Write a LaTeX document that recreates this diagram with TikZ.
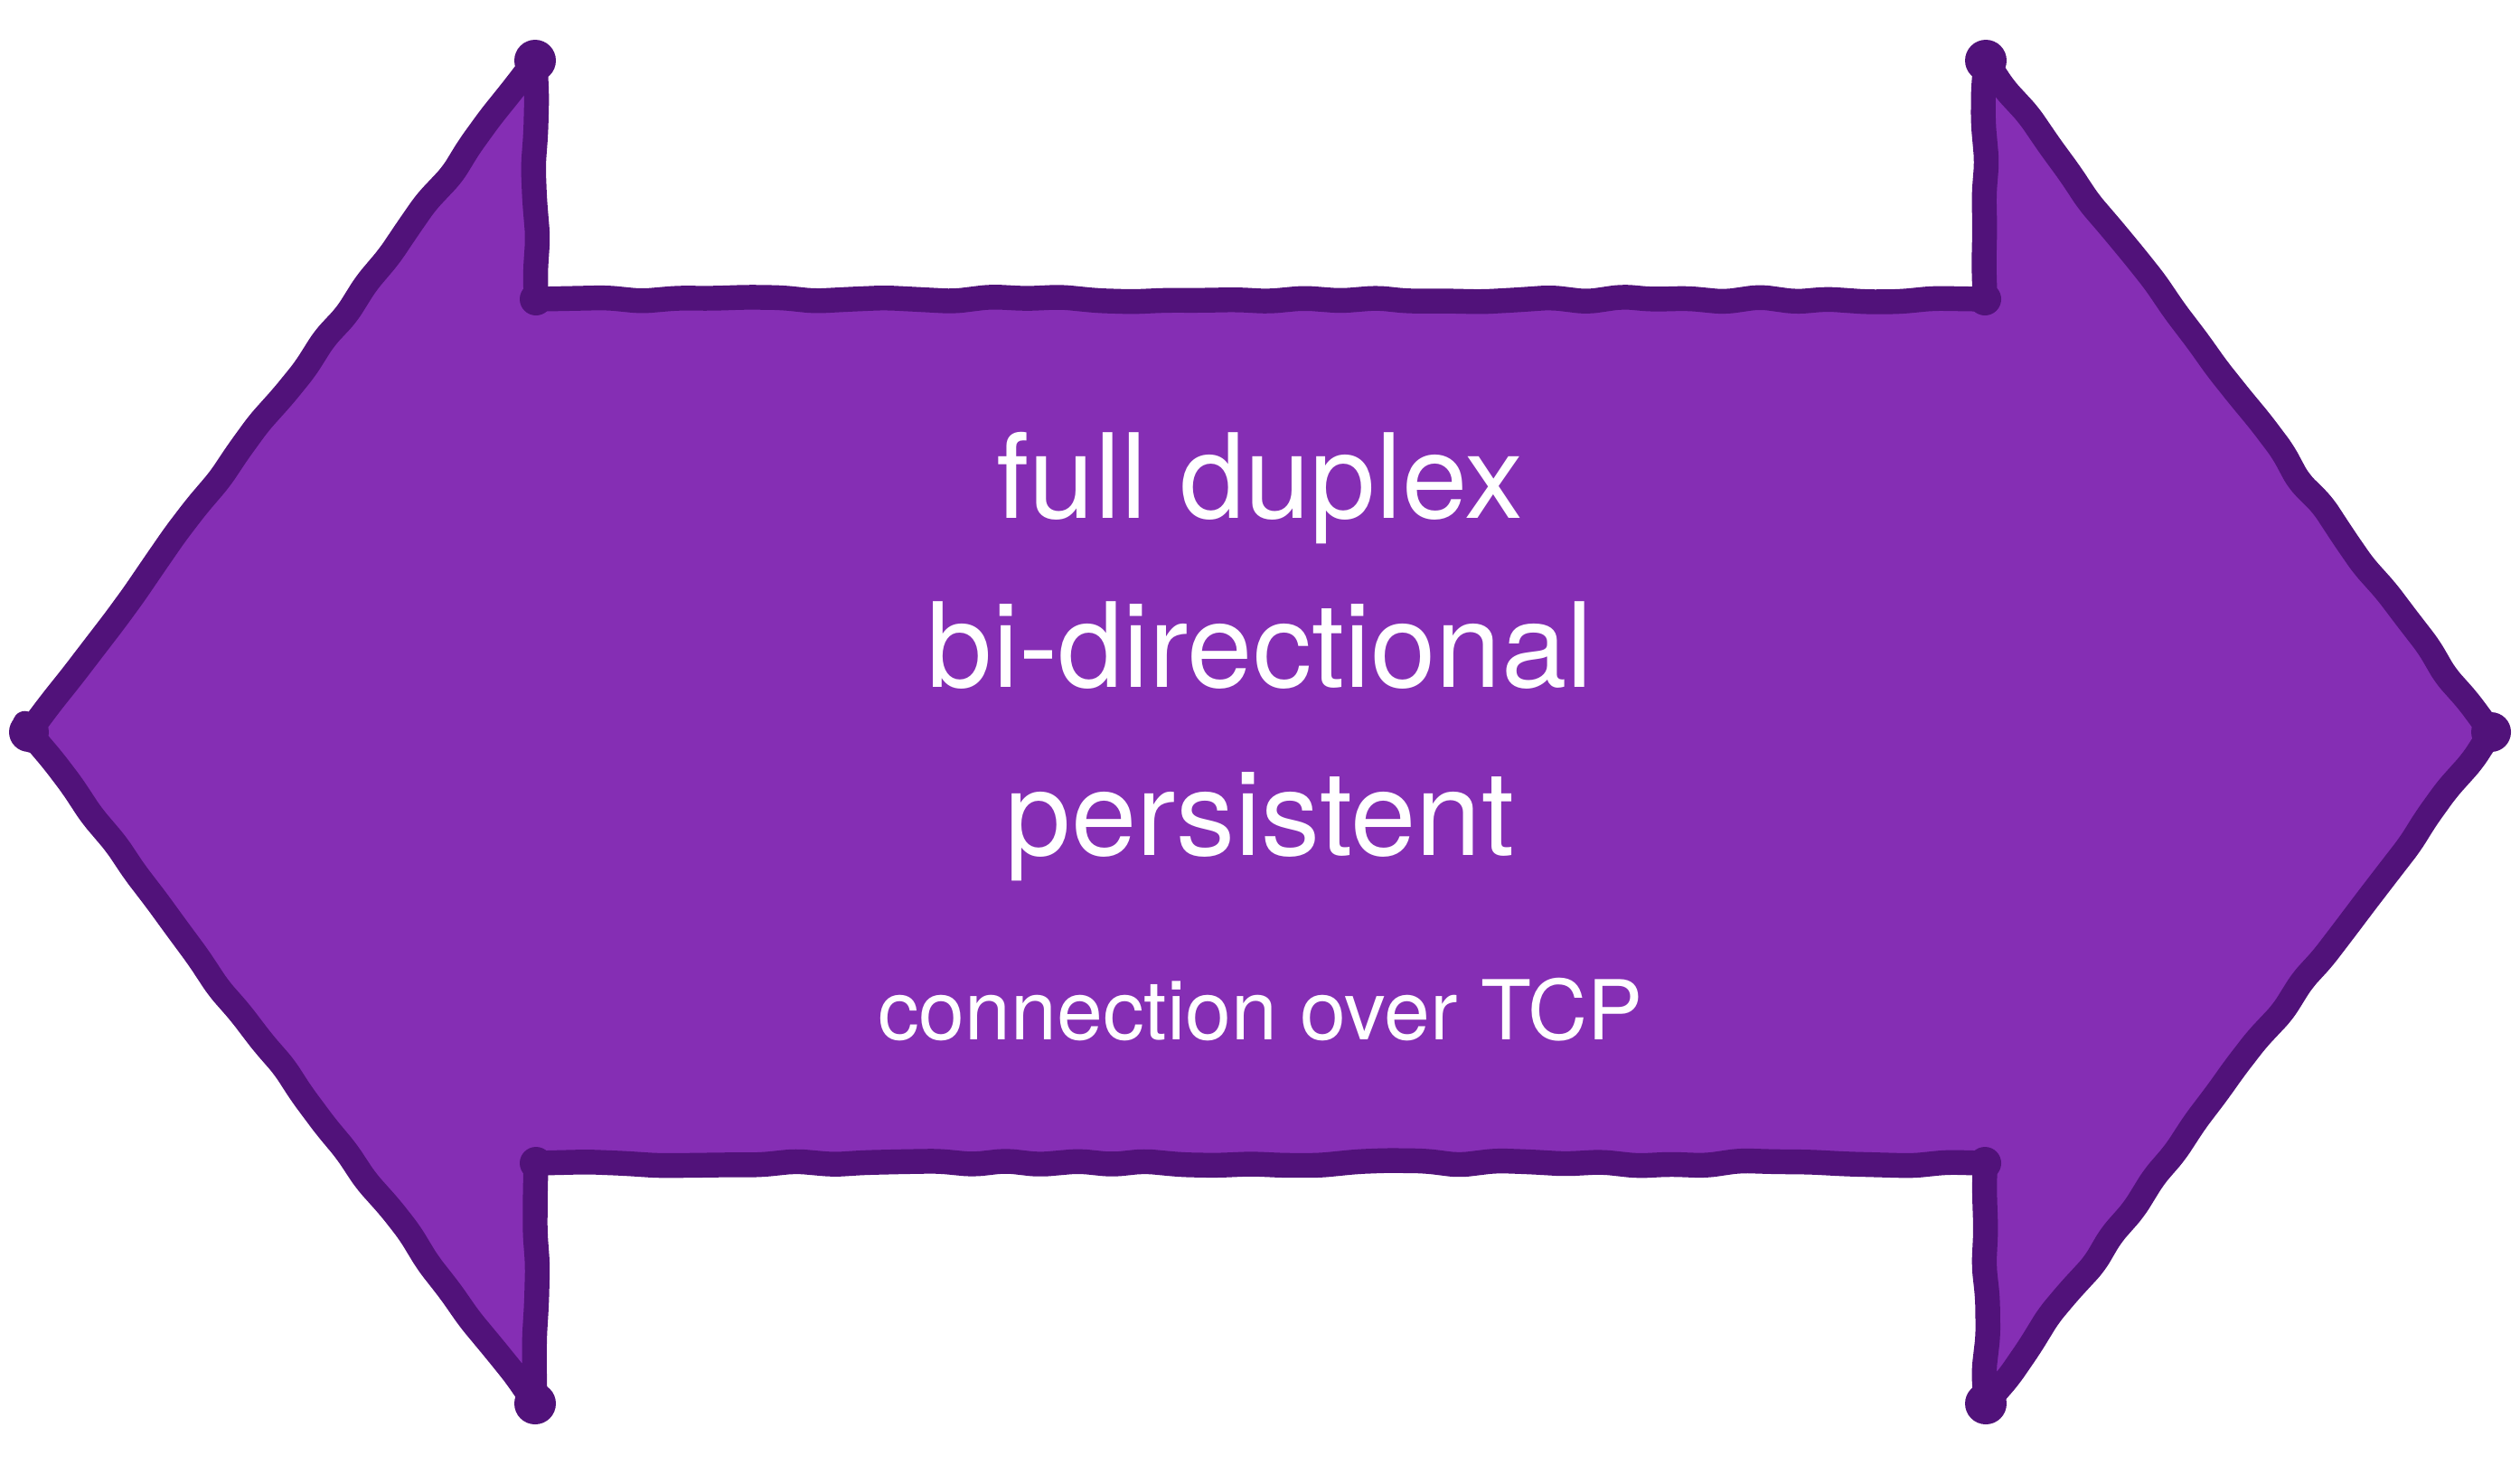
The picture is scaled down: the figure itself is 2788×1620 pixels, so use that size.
\documentclass[tikz,border=0pt]{standalone}
\usepackage{fontspec}
\setmainfont{TeX Gyre Heros}
\usetikzlibrary{decorations.pathmorphing}
\definecolor{arrowfill}{HTML}{852EB4}
\definecolor{arrowline}{HTML}{51127A}
\tikzset{
  sketchy/.style={draw=arrowline, fill=arrowfill, line width=7.8pt,
    line join=round, line cap=round,
    decoration={random steps, segment length=11pt, amplitude=0.9pt},
    rounded corners=3pt},
  bigtext/.style={text=white, inner sep=0pt, anchor=base,
    font=\fontsize{37}{44}\selectfont},
  smalltext/.style={text=white, inner sep=0pt, anchor=base,
    font=\fontsize{26}{31}\selectfont}
}
\begin{document}
\begin{tikzpicture}[x=0.01cm,y=-0.01cm]
\useasboundingbox (0,0) rectangle (2788,1620);
\pgfmathsetseed{11}
\coordinate (lt) at (32,810);
\coordinate (nlt) at (592,67);
\coordinate (clt) at (593,331);
\coordinate (crt) at (2196,331);
\coordinate (nrt) at (2197,67);
\coordinate (rt) at (2756,810);
\coordinate (nrb) at (2197,1553);
\coordinate (crb) at (2196,1287);
\coordinate (clb) at (593,1287);
\coordinate (nlb) at (592,1553);
\path[sketchy]
  (lt) decorate{-- (nlt)} decorate{-- (clt)} decorate{-- (crt)}
  decorate{-- (nrt)} decorate{-- (rt)} decorate{-- (nrb)}
  decorate{-- (crb)} decorate{-- (clb)} decorate{-- (nlb)}
  decorate{-- (lt)} -- cycle;
% rounded blobs where the pen turned
\foreach \c/\r in {lt/22,nlt/23,nrt/23,rt/22,nrb/23,nlb/23,
                   clt/18,crt/18,crb/18,clb/18}
  \fill[arrowline] (\c) circle (\r);
\node[bigtext] (l1) at (1394,573) {full duplex};
\node[bigtext] (l2) at (1394,760) {bi-directional};
\node[bigtext] (l3) at (1394,946) {persistent};
\node[smalltext] (l4) at (1394,1150) {connection over TCP};
\end{tikzpicture}
\end{document}
